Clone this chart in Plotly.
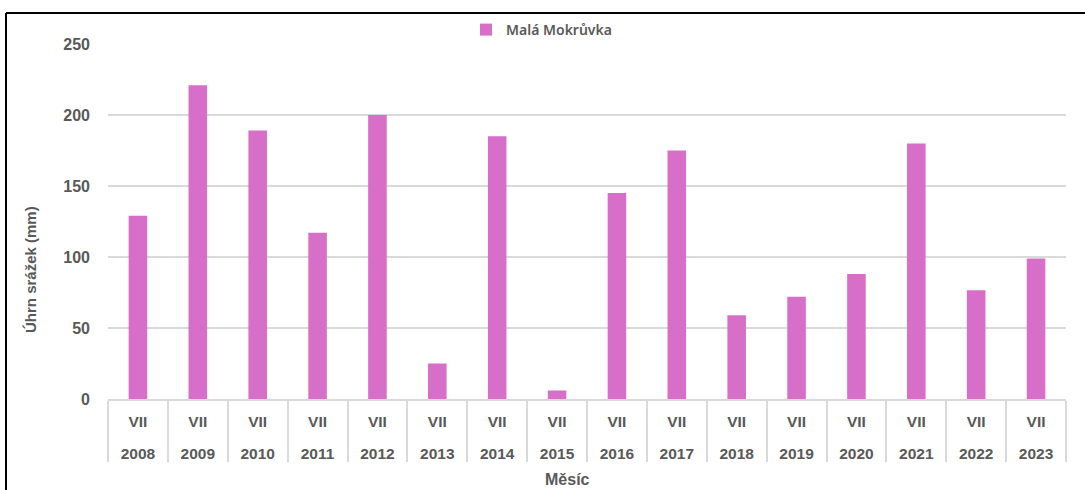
import plotly.graph_objects as go

years = ["2008", "2009", "2010", "2011", "2012", "2013", "2014", "2015",
         "2016", "2017", "2018", "2019", "2020", "2021", "2022", "2023"]
months = ["VII"] * len(years)
values = [129, 221, 189, 117, 200, 25, 185, 6,
          145, 175, 59, 72, 88, 180, 76.5, 99]
series_name = "Malá Mokrůvka"
y_ticks = [0, 50, 100, 150, 200, 250]

W, H = 1085, 490
L, R, T, B = 108, 1066, 44, 399  # plot area in pixels


def px_x(px):
    return (px - L) / (R - L)


def px_y(py):
    return (B - py) / (B - T)


bar_color = "#D76FC9"
text_color = "#595959"
grid_color = "#D9D9D9"

inner_labels = [m + "<br> " for m in months]

fig = go.Figure()
fig.add_trace(go.Bar(
    x=[years, inner_labels],
    y=values,
    name=series_name,
    marker=dict(color=bar_color, line=dict(width=0)),
    showlegend=True,
))

fig.update_layout(
    width=W, height=H,
    margin=dict(l=L, r=W - R, t=T, b=H - B),
    paper_bgcolor="white",
    plot_bgcolor="white",
    bargap=0.69,
    font=dict(family="Liberation Sans, Arial, sans-serif", color=text_color),
    showlegend=True,
    legend=dict(
        orientation="h",
        x=px_x(466), xanchor="left",
        y=px_y(30), yanchor="middle",
        font=dict(family="Noto Sans, sans-serif", size=14, color=text_color, weight=600),
        bgcolor="rgba(0,0,0,0)",
    ),
    xaxis=dict(
        type="multicategory",
        showline=True, linecolor=grid_color, linewidth=1.5,
        showdividers=True, dividercolor=grid_color, dividerwidth=1.5,
        tickfont=dict(size=15.5, color=text_color, weight="bold"),
        showgrid=False,
        ticks="",
        ticklabelstandoff=8,
    ),
    yaxis=dict(
        range=[0, 250],
        tickvals=y_ticks,
        showgrid=True, gridcolor=grid_color, gridwidth=1.5,
        zeroline=False, showline=False,
        tickfont=dict(size=16, color=text_color, weight="bold"),
        ticklabelstandoff=17,
    ),
    annotations=[
        dict(text="Úhrn srážek (mm)", textangle=-90, xref="paper", yref="paper",
             x=px_x(30), y=px_y(270), showarrow=False, xanchor="center", yanchor="middle",
             font=dict(size=15, color=text_color, weight="bold")),
        dict(text="Měsíc", xref="paper", yref="paper",
             x=px_x(567), y=px_y(480), showarrow=False, xanchor="center", yanchor="middle",
             font=dict(size=16, color=text_color, weight="bold")),
    ],
    shapes=[
        dict(type="line", xref="paper", yref="paper",
             x0=px_x(6), x1=px_x(1090), y0=px_y(13), y1=px_y(13),
             line=dict(color="black", width=2)),
        dict(type="line", xref="paper", yref="paper",
             x0=px_x(6), x1=px_x(6), y0=px_y(13), y1=px_y(495),
             line=dict(color="black", width=2)),
    ],
)

fig.write_html("out.html",
               config={"displayModeBar": False},
               post_script="document.body.style.margin='0';document.body.style.overflow='hidden';")
